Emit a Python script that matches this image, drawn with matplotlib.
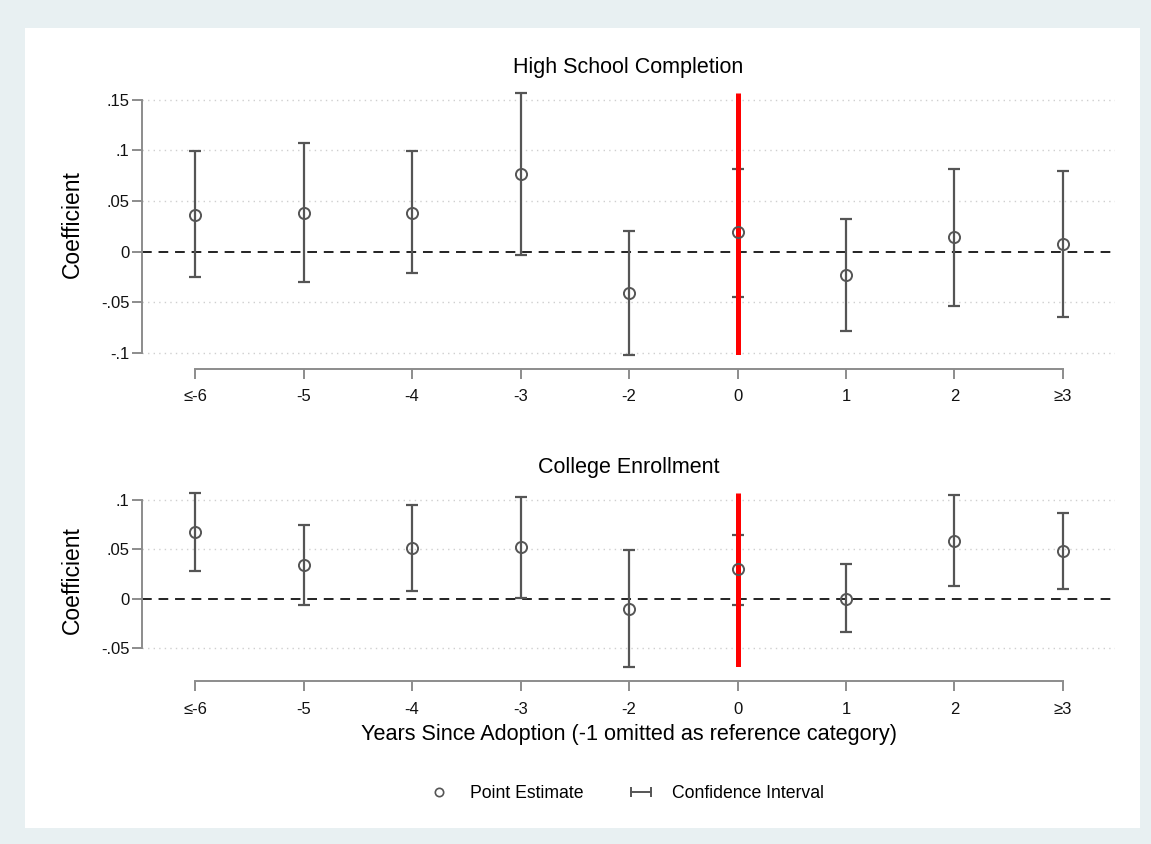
import matplotlib
matplotlib.use("Agg")
import matplotlib.pyplot as plt
from matplotlib.lines import Line2D
from matplotlib.legend_handler import HandlerLine2D
from matplotlib.patches import Rectangle

plt.rcParams["font.family"] = ["Liberation Sans", "DejaVu Sans"]

categories = ["≤-6", "-5", "-4", "-3", "-2", "0", "1", "2", "≥3"]

# High School Completion
hs_coef = [0.036, 0.038, 0.038, 0.077, -0.041, 0.019, -0.023, 0.014, 0.007]
hs_low = [-0.025, -0.030, -0.021, -0.003, -0.102, -0.045, -0.079, -0.054, -0.065]
hs_high = [0.099, 0.107, 0.099, 0.157, 0.020, 0.082, 0.032, 0.082, 0.080]
hs_yticks = [-0.1, -0.05, 0, 0.05, 0.1, 0.15]
hs_yticklabels = ["-.1", "-.05", "0", ".05", ".1", ".15"]

# College Enrollment
ce_coef = [0.067, 0.034, 0.051, 0.052, -0.010, 0.030, 0.000, 0.058, 0.048]
ce_low = [0.028, -0.006, 0.008, 0.001, -0.069, -0.006, -0.034, 0.013, 0.010]
ce_high = [0.107, 0.074, 0.095, 0.103, 0.049, 0.064, 0.035, 0.105, 0.087]
ce_yticks = [-0.05, 0, 0.05, 0.1]
ce_yticklabels = ["-.05", "0", ".05", ".1"]

adoption_label = "0"

gray = "#555555"
axis_gray = "#8c8c8c"

fig = plt.figure(figsize=(11.51, 8.44), dpi=100)
fig.patch.set_facecolor("#e8f0f2")
fig.patches.append(Rectangle((25 / 1151, 1 - 828 / 844), 1115 / 1151, 800 / 844,
                             transform=fig.transFigure, facecolor="white",
                             edgecolor="none", zorder=-10))

ax_top = fig.add_axes([0.1234, 0.5797, 0.8453, 0.3104])
ax_bot = fig.add_axes([0.1234, 0.2096, 0.8453, 0.2066])


def draw_panel(ax, title, coef, low, high, yticks, yticklabels):
    x = list(range(len(categories)))
    ax.set_facecolor("none")
    lo_err = [c - l for c, l in zip(coef, low)]
    hi_err = [h - c for c, h in zip(coef, high)]
    ax.errorbar(x, coef, yerr=[lo_err, hi_err], fmt="none", ecolor=gray,
                elinewidth=1.6, capsize=4, capthick=1.6, zorder=3, clip_on=False)
    ax.plot(x, coef, "o", mfc="none", mec=gray, ms=8, mew=1.4, zorder=5, clip_on=False)
    x0 = categories.index(adoption_label)
    ax.vlines(x0, min(low), max(high), color="#ff0000", lw=3.6, zorder=4)
    ax.axhline(0, color="#222222", lw=1.4, ls=(0, (5, 3.5)), zorder=2)
    for t in yticks:
        if t != 0:
            ax.axhline(t, color="#cfcfcf", lw=1, ls=(0, (1, 3)), zorder=1)
    ax.set_xlim(-0.49, len(categories) - 1 + 0.48)
    ax.set_ylim(min(low), max(high))
    ax.set_xticks(x)
    ax.set_xticklabels(categories)
    ax.set_yticks(yticks)
    ax.set_yticklabels(yticklabels)
    for s in ["top", "right"]:
        ax.spines[s].set_visible(False)
    ax.spines["left"].set_bounds(yticks[0], yticks[-1])
    ax.spines["bottom"].set_bounds(0, len(categories) - 1)
    ax.spines["left"].set_position(("outward", 0))
    ax.spines["bottom"].set_position(("outward", 10))
    for s in ["left", "bottom"]:
        ax.spines[s].set_color(axis_gray)
        ax.spines[s].set_linewidth(1.4)
    ax.tick_params(axis="both", colors=axis_gray, width=1.4, length=7,
                   labelcolor="#111111", labelsize=12)
    ax.tick_params(axis="x", pad=8)
    ax.tick_params(axis="y", pad=2)
    ax.set_ylabel("Coefficient", fontsize=16.5, labelpad=12)
    ax.set_title(title, fontsize=15.5, pad=14)


draw_panel(ax_top, "High School Completion", hs_coef, hs_low, hs_high,
           hs_yticks, hs_yticklabels)
draw_panel(ax_bot, "College Enrollment", ce_coef, ce_low, ce_high,
           ce_yticks, ce_yticklabels)
ax_bot.set_xlabel("Years Since Adoption (-1 omitted as reference category)",
                  fontsize=15.6, labelpad=5)

pt_handle = Line2D([], [], ls="none", marker="o", mfc="none", mec=gray, ms=6, mew=1.2)
ci_handle = Line2D([], [], color=gray, lw=1.4, marker="|", ms=7, mew=1.4)
fig.legend([pt_handle, ci_handle], ["Point Estimate", "Confidence Interval"],
           loc="center", bbox_to_anchor=(624 / 1151, 1 - 794 / 844), ncol=2,
           frameon=False, fontsize=12.7, columnspacing=2.4, handlelength=1.7,
           handletextpad=0.9,
           handler_map={ci_handle: HandlerLine2D(numpoints=2)})

fig.savefig("out.png", dpi=100, facecolor=fig.get_facecolor())
